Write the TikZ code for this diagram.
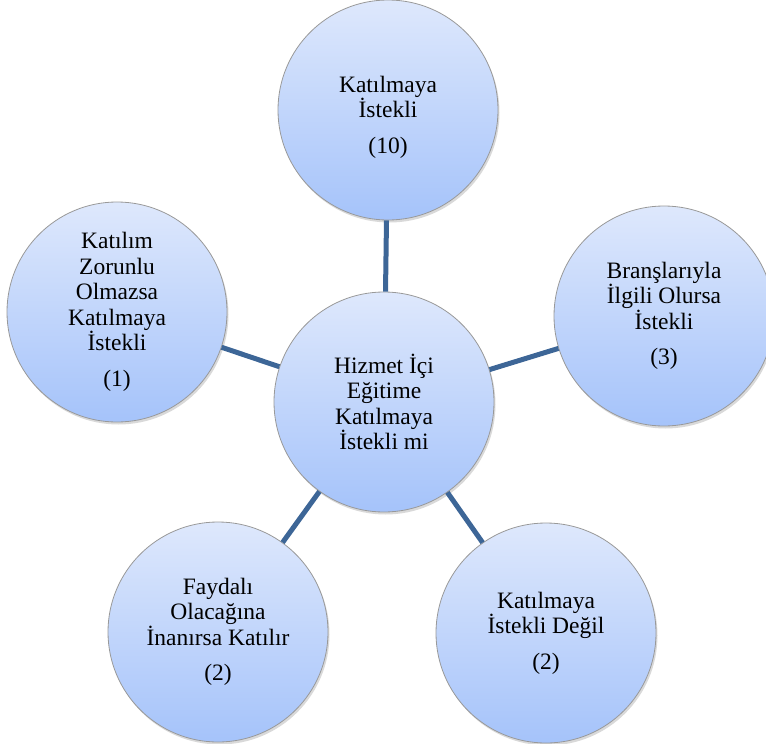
\documentclass[tikz,border=0pt]{standalone}
\usepackage{fontspec}
\setmainfont{Liberation Serif}
\usetikzlibrary{shadows}
\definecolor{bubbletop}{HTML}{DEE8FC}
\definecolor{bubblebottom}{HTML}{A5C3FA}
\definecolor{spoke}{HTML}{3D6697}
\tikzset{bubbletext/.style={align=center, font=\fontsize{23.5}{25.5}\selectfont}}
\begin{document}
\begin{tikzpicture}[x=1pt,y=-1pt,
  bubble/.style={circle, minimum size=220pt, inner sep=0pt, bubbletext,
    top color=bubbletop, bottom color=bubblebottom,
    draw=gray!80, line width=0.8pt,
    drop shadow={shadow xshift=1.5pt, shadow yshift=-2.5pt, opacity=0.25, fill=black!60}},
  link/.style={draw=spoke, line width=5pt}]
  \useasboundingbox (0,0) rectangle (766,744);
  \clip (0,0) rectangle (766,744);

  % hub and its five answers
  \node[bubble] (hub) at (384,402) {Hizmet İçi\\Eğitime\\Katılmaya\\İstekli mi};
  \node[bubble, label={[bubbletext, yshift=-7pt]center:Katılmaya\\İstekli\\[10pt](10)}] (top) at (388,110) {};
  \node[bubble] (left) at (117,312) {Katılım\\Zorunlu\\Olmazsa\\Katılmaya\\İstekli\\[10pt](1)};
  \node[bubble] (right) at (664,316) {Branşlarıyla\\İlgili Olursa\\İstekli\\[10pt](3)};
  \node[bubble] (bl) at (218,632) {Faydalı\\Olacağına\\İnanırsa Katılır\\[10pt](2)};
  \node[bubble] (br) at (546,633) {Katılmaya\\İstekli Değil\\[10pt](2)};

  % spokes from the hub
  \foreach \n in {top,left,right,bl,br}
    \path[link] (hub) -- (\n);
\end{tikzpicture}
\end{document}
